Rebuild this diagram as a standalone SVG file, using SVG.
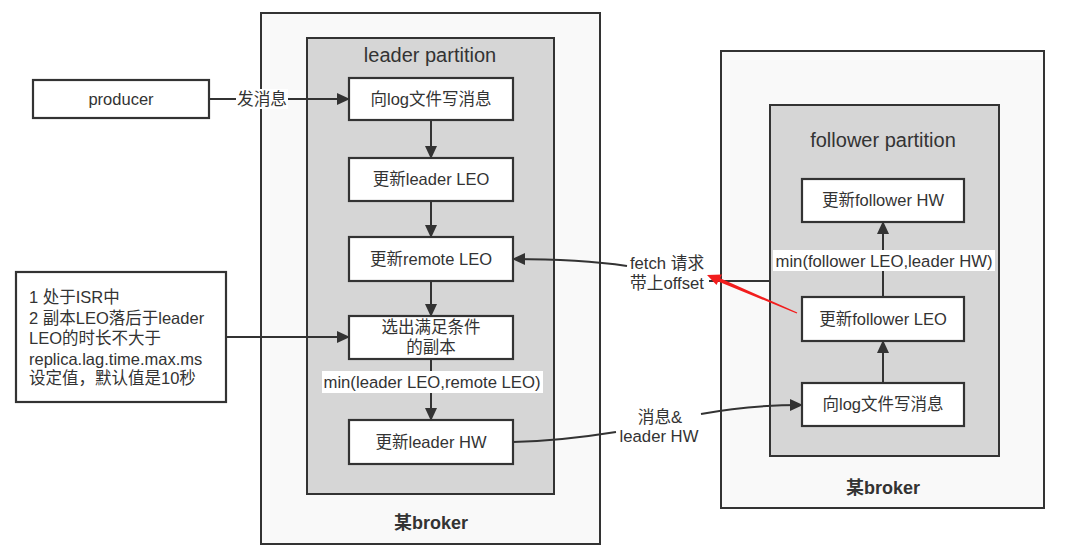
<svg xmlns="http://www.w3.org/2000/svg" width="1080" height="557" viewBox="0 0 1080 557">
<style>
text{font-family:"Liberation Sans","Noto Sans CJK SC",sans-serif;fill:#333;}
.broker{fill:#f9f9f9;stroke:#333;stroke-width:2;}
.part{fill:#d6d6d6;stroke:#333;stroke-width:2;}
.node{fill:#fff;stroke:#333;stroke-width:2.2;}
.nt{font-size:16.5px;text-anchor:middle;}
.title{font-size:20px;text-anchor:middle;}
.bold{font-size:18px;font-weight:bold;text-anchor:middle;}
.lbl{font-size:16.7px;text-anchor:middle;}
.note{font-size:16.5px;}
.edge{fill:none;stroke:#333;stroke-width:2;}
.lblbg{fill:#fff;}
</style>
<defs>
<marker id="arr" markerUnits="userSpaceOnUse" markerWidth="14" markerHeight="12" refX="12" refY="6" orient="auto">
<path d="M0,0 L13,6 L0,12 Z" fill="#333"/>
</marker>
</defs>
<rect width="1080" height="557" fill="#fff"/>
<g id="left-broker">
<rect class="broker" x="261" y="13" width="339" height="531"/>
<text class="bold" x="431" y="529">某broker</text>
</g>
<g id="leader-partition">
<rect class="part" x="307" y="38" width="247" height="456"/>
<text class="title" x="430" y="62">leader partition</text>
</g>
<g id="right-broker">
<rect class="broker" x="721" y="51" width="323" height="457"/>
<text class="bold" x="883" y="494">某broker</text>
</g>
<g id="follower-partition">
<rect class="part" x="770" y="105" width="229" height="351"/>
<text class="title" x="883" y="147">follower partition</text>
</g>
<g id="producer">
<rect class="node" x="33" y="80" width="176" height="38"/>
<text class="nt" x="121" y="105">producer</text>
</g>
<g id="note">
<rect class="node" x="16" y="272" width="210" height="130"/>
<text class="note" x="29" y="303">1 处于ISR中</text>
<text class="note" x="29" y="324">2 副本LEO落后于leader</text>
<text class="note" x="29" y="344">LEO的时长不大于</text>
<text class="note" x="29" y="365">replica.lag.time.max.ms</text>
<text class="note" x="29" y="384">设定值，默认值是10秒</text>
</g>
<g id="leader-write">
<rect class="node" x="349" y="78" width="164" height="42"/>
<text class="nt" x="431" y="105">向log文件写消息</text>
</g>
<g id="leader-leo">
<rect class="node" x="349" y="158" width="164" height="43"/>
<text class="nt" x="431" y="185">更新leader LEO</text>
</g>
<g id="remote-leo">
<rect class="node" x="349" y="237" width="164" height="44"/>
<text class="nt" x="431" y="265">更新remote LEO</text>
</g>
<g id="select-replica">
<rect class="node" x="349" y="316" width="164" height="43"/>
<text class="nt" x="431" y="333">选出满足条件</text>
<text class="nt" x="431" y="353">的副本</text>
</g>
<g id="leader-hw">
<rect class="node" x="349" y="420" width="164" height="44"/>
<text class="nt" x="431" y="448">更新leader HW</text>
</g>
<g id="follower-hw">
<rect class="node" x="802" y="179" width="162" height="43"/>
<text class="nt" x="883" y="206">更新follower HW</text>
</g>
<g id="follower-leo">
<rect class="node" x="802" y="297" width="162" height="44"/>
<text class="nt" x="883" y="325">更新follower LEO</text>
</g>
<g id="follower-write">
<rect class="node" x="802" y="383" width="162" height="43"/>
<text class="nt" x="883" y="410">向log文件写消息</text>
</g>
<g id="connectors">
<path class="edge" d="M209,99 L349,99" marker-end="url(#arr)"/>
<rect class="lblbg" x="236" y="89" width="52" height="20"/>
<text class="lbl" x="262" y="105">发消息</text>
<path class="edge" d="M431,120 L431,158" marker-end="url(#arr)"/>
<path class="edge" d="M431,201 L431,237" marker-end="url(#arr)"/>
<path class="edge" d="M431,281 L431,316" marker-end="url(#arr)"/>
<path class="edge" d="M431,359 L431,420" marker-end="url(#arr)"/>
<rect class="lblbg" x="322" y="371" width="221" height="22"/>
<text class="lbl" x="432" y="388">min(leader LEO,remote LEO)</text>
<path class="edge" d="M883,297 L883,222" marker-end="url(#arr)"/>
<rect class="lblbg" x="773" y="250" width="222" height="21"/>
<text class="lbl" x="884" y="267">min(follower LEO,leader HW)</text>
<path class="edge" d="M226,337 L349,337" marker-end="url(#arr)"/>
<path class="edge" d="M883,383 L883,341" marker-end="url(#arr)"/>
<path class="edge" d="M769,281 L709,281"/>
<path class="edge" d="M627,266 Q580,259 513,259" marker-end="url(#arr)"/>
<text class="lbl" x="667" y="269">fetch 请求</text>
<text class="lbl" x="667" y="289">带上offset</text>
<path d="M707,275 L722,274.6 L720.2,278.3 L797.3,312.5 L796.7,313.5 L718.2,281.5 L716.5,285 Z" fill="#f21d1d"/>
<path class="edge" d="M513,442 Q560,441 616,432"/>
<path class="edge" d="M701,414 Q750,405 802,405" marker-end="url(#arr)"/>
<text class="lbl" x="660" y="423">消息&amp;</text>
<text class="lbl" x="659" y="442">leader HW</text>
</g>
</svg>
